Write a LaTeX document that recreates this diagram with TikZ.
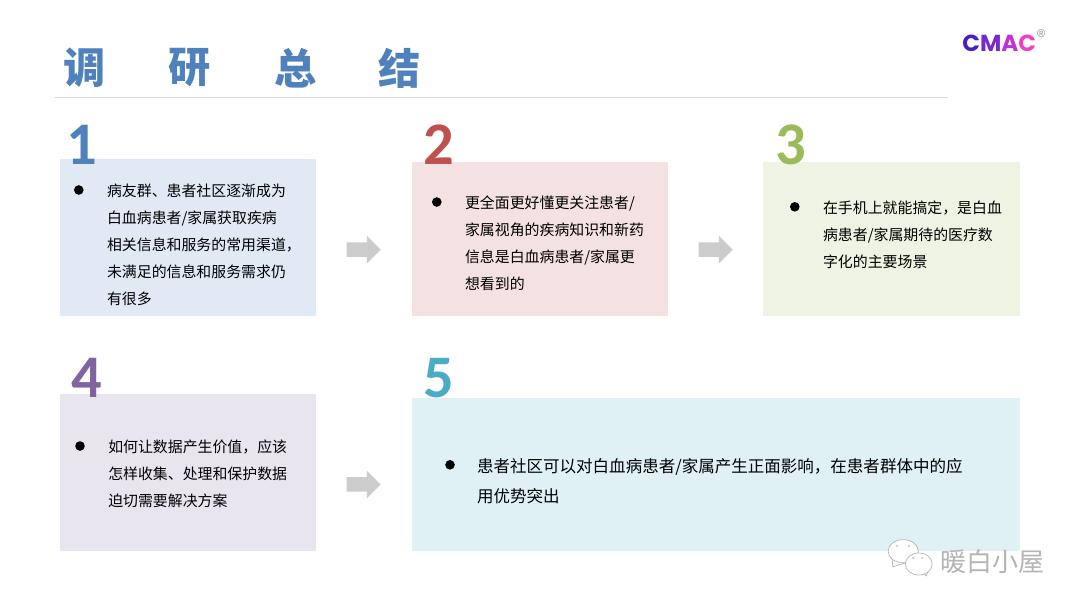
\documentclass[tikz,border=0pt]{standalone}
\usepackage{fontspec}
\setmainfont{Noto Sans CJK SC}
\newfontfamily\numfont{Carlito}
\newfontfamily\logofont{Poppins}
\newfontfamily\regfont{Liberation Sans}
\usetikzlibrary{shapes.arrows}
\definecolor{tblue}{HTML}{4F81BD}
\definecolor{tred}{HTML}{C0504D}
\definecolor{tgreen}{HTML}{9BBB59}
\definecolor{tpurple}{HTML}{8064A2}
\definecolor{tcyan}{HTML}{4BACC6}
\definecolor{markgray}{HTML}{B4B4B4}

\begin{document}
\begin{tikzpicture}[
modrect/.style={rectangle, anchor = north west, inner sep = 0, minimum width = 6.4cm},
numlab/.style={font = \numfont\bfseries\fontsize{43}{43}\selectfont, inner sep = 0},
titlab/.style={font = \bfseries\fontsize{30}{30}\selectfont, text = tblue, inner sep = 0},
bodytxt/.style={anchor = west, align = left, inner sep = 0, font = \fontsize{10.6}{19.2}\selectfont},
bull/.style={circle, fill = black, inner sep = 0, minimum size = .24cm},
grayarr/.style={single arrow, fill = black!20, draw = none, inner xsep = 0, inner ysep = .175cm, minimum height = .85cm, single arrow head extend = .16cm, single arrow head indent = 0, single arrow tip angle = 90},
bubble/.style={circle, draw = markgray, fill = white, line width = .5pt, inner sep = 0},
eye/.style={circle, fill = markgray, inner sep = 0, minimum size = .05cm}
]
\useasboundingbox (0,0) rectangle (27,-15.2);

% title
\node[titlab] (T1) at (2.12,-1.7) {调};
\node[titlab] (T2) at (4.75,-1.7) {研};
\node[titlab] (T3) at (7.38,-1.7) {总};
\node[titlab] (T4) at (10,-1.7) {结};
\coordinate (L1) at (1.38,-2.43);
\coordinate (L2) at (23.7,-2.43);
\draw[black!15, line width = .8pt] (L1) -- (L2);

% logo
\node[inner sep = 0, font = \logofont\bfseries\fontsize{16.5}{16.5}\selectfont] (logo) at (24.98,-1.09) {\textcolor[HTML]{4A1FC0}{C}\textcolor[HTML]{7A27D0}{M}\textcolor[HTML]{C030D8}{A}\textcolor[HTML]{F040C4}{C}};
\node[inner sep = 0, text = black!45, font = \regfont\fontsize{8}{8}\selectfont] (reg) at (26.03,-.85) {®};

% boxes
\node[modrect, fill = tblue!17, minimum height = 3.925cm] (B1) at (1.5,-3.975) {};
\node[modrect, fill = tred!17, minimum height = 3.85cm] (B2) at (10.29,-4.05) {};
\node[modrect, fill = tgreen!17, minimum height = 3.85cm, minimum width = 6.425cm] (B3) at (19.075,-4.05) {};
\node[modrect, fill = tpurple!17, minimum height = 3.925cm] (B4) at (1.5,-9.85) {};
\node[modrect, fill = tcyan!17, minimum height = 3.825cm, minimum width = 15.21cm] (B5) at (10.29,-9.95) {};

% numbers
\foreach \px/\py/\nn/\cc in {2.05/-3.62/1/tblue, 10.97/-3.62/2/tred, 19.76/-3.62/3/tgreen, 2.18/-9.45/4/tpurple, 10.97/-9.45/5/tcyan}{
  \node[numlab, text = \cc] (N\nn) at (\px,\py) {\nn};
}

% texts
\node[bodytxt] (X1) at (2.67,-6.125) {病友群、患者社区逐渐成为\\白血病患者/家属获取疾病\\相关信息和服务的常用渠道，\\未满足的信息和服务需求仍\\有很多};
\node[bull] (D1) at (1.97,-4.75) {};
\node[bodytxt] (X2) at (11.62,-6.09) {更全面更好懂更关注患者/\\家属视角的疾病知识和新药\\信息是白血病患者/家属更\\想看到的};
\node[bull] (D2) at (10.92,-5.05) {};
\node[bodytxt] (X3) at (20.57,-5.875) {在手机上就能搞定，是白血\\病患者/家属期待的医疗数\\字化的主要场景};
\node[bull] (D3) at (19.87,-5.17) {};
\node[bodytxt] (X4) at (2.7,-11.85) {如何让数据产生价值，应该\\怎样收集、处理和保护数据\\迫切需要解决方案};
\node[bull] (D4) at (2,-11.15) {};
\node[bodytxt, font = \fontsize{11.75}{21.3}\selectfont] (X5) at (11.92,-12.02) {患者社区可以对白血病患者/家属产生正面影响，在患者群体中的应\\用优势突出};
\node[bull] (D5) at (11.25,-11.62) {};

% arrows
\node[grayarr] (A1) at (9,-6.24) {};
\node[grayarr] (A2) at (17.8,-6.24) {};
\node[grayarr] (A3) at (9,-12.11) {};

% watermark
\draw[markgray, fill = white, line width = .5pt] (22.3,-13.95) -- (22.32,-14.17) -- (22.7,-14.05) -- cycle;
\node[bubble, minimum size = .58cm, xscale = 1.3] (W1) at (22.58,-13.78) {};
\draw[markgray, fill = white, line width = .5pt] (23.05,-14.25) -- (23.15,-14.4) -- (23.25,-14.2) -- cycle;
\node[bubble, minimum size = .55cm, xscale = 1.22] (W2) at (22.97,-14.1) {};
\node[eye] (E1) at (22.43,-13.65) {};
\node[eye] (E2) at (22.72,-13.65) {};
\node[eye] (E3) at (22.83,-13.95) {};
\node[eye] (E4) at (23.05,-13.95) {};
\node[inner sep = 0, text = markgray, font = \fontsize{18.5}{18.5}\selectfont] (W3) at (24.82,-14.03) {暖白小屋};
\end{tikzpicture}
\end{document}
